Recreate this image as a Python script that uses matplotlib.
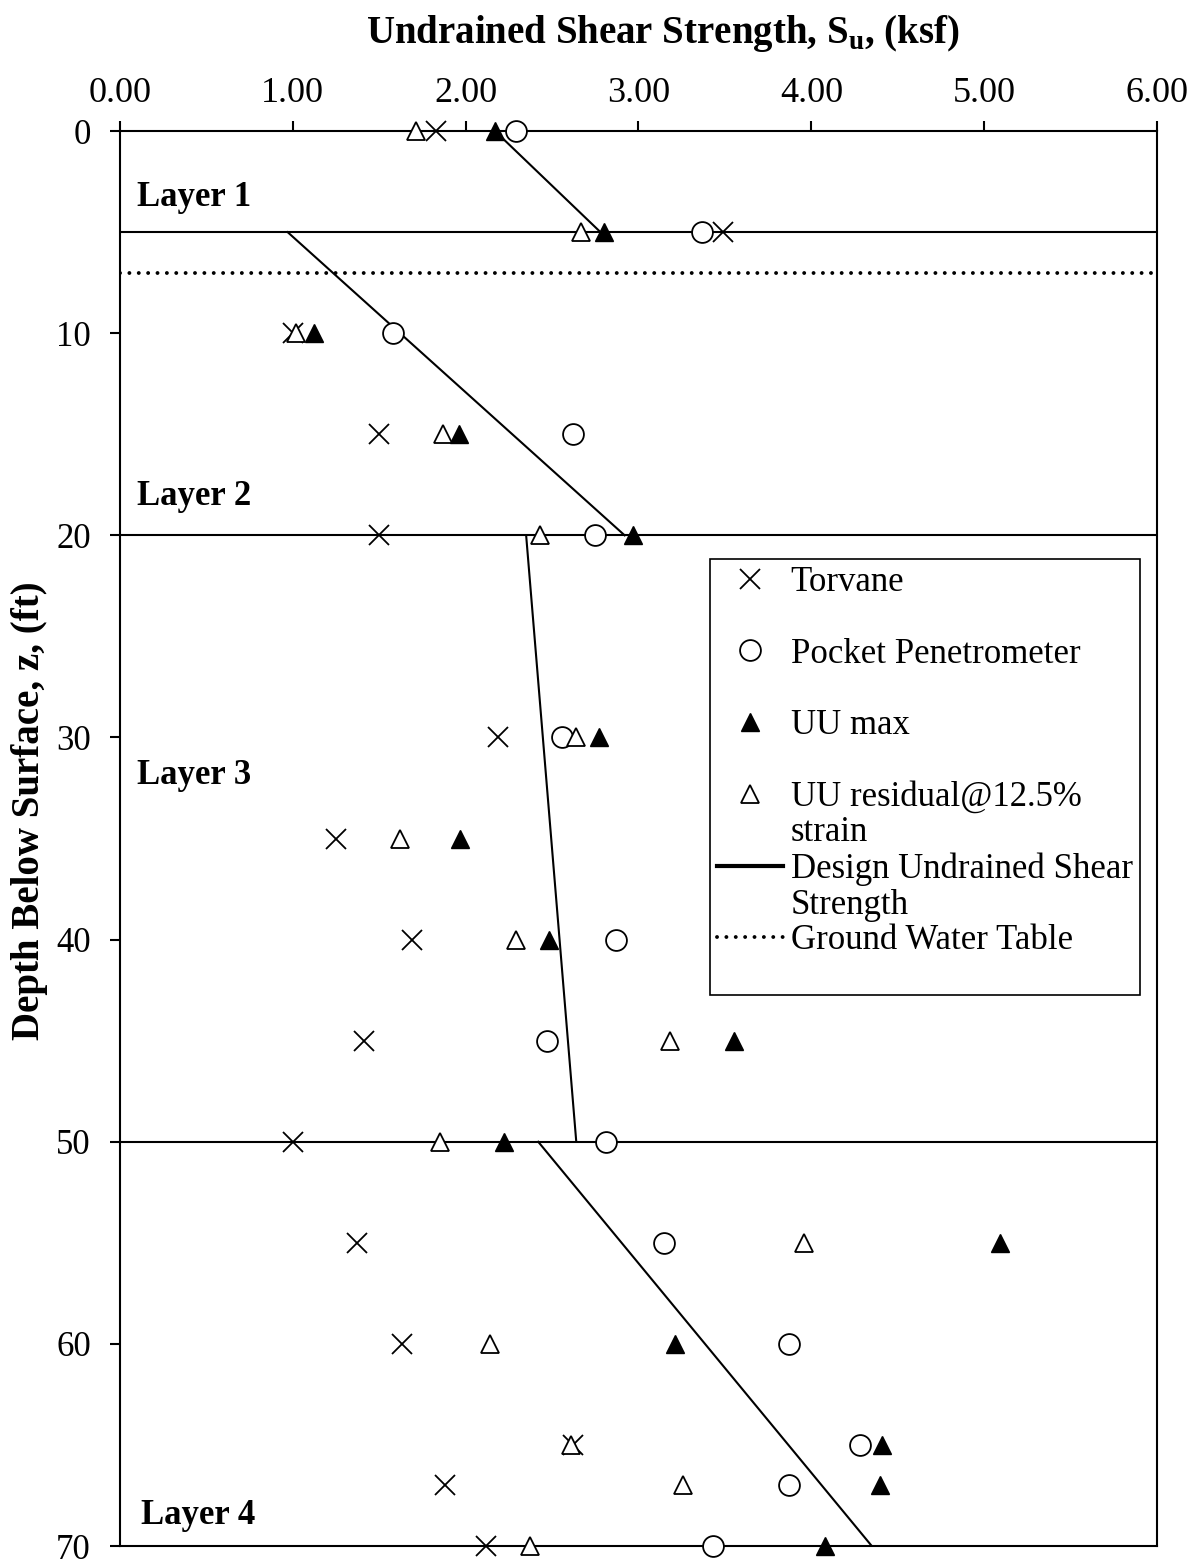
import matplotlib
matplotlib.use("Agg")
import matplotlib.pyplot as plt
from matplotlib.lines import Line2D

plt.rcParams['font.family'] = ['Liberation Serif', 'DejaVu Serif']
plt.rcParams['mathtext.fontset'] = 'custom'
plt.rcParams['mathtext.rm'] = 'Liberation Serif'
plt.rcParams['mathtext.bf'] = 'Liberation Serif:bold'

# depths (ft) of the samples
depth = [0, 5, 10, 15, 20, 30, 35, 40, 45, 50, 55, 60, 65, 67, 70]
torvane = [1.83, 3.49, 1.00, 1.50, 1.50, 2.19, 1.25, 1.69, 1.41, 1.00, 1.37, 1.63, 2.62, 1.88, 2.12]
uu_max = [2.17, 2.80, 1.12, 1.96, 2.97, 2.77, 1.97, 2.48, 3.55, 2.22, 5.09, 3.21, 4.41, 4.40, 4.08]
uu_resid = [1.71, 2.67, 1.02, 1.87, 2.43, 2.64, 1.62, 2.29, 3.18, 1.85, 3.96, 2.14, 2.61, 3.26, 2.37]
# no pocket penetrometer reading at 35 ft
pp_depth = [0, 5, 10, 15, 20, 30, 40, 45, 50, 55, 60, 65, 67, 70]
pocket_pen = [2.29, 3.37, 1.58, 2.62, 2.75, 2.56, 2.87, 2.47, 2.81, 3.15, 3.87, 4.28, 3.87, 3.43]

# design Su, one straight segment per layer
design_z = [[0, 5], [5, 20], [20, 50], [50, 70]]
design_su = [[2.17, 2.78], [0.97, 2.92], [2.35, 2.64], [2.42, 4.35]]

layer_bounds = [5, 20, 50]
gwt_depth = 7
layer_names = ['Layer 1', 'Layer 2', 'Layer 3', 'Layer 4']
layer_label_z = [3.3, 18.1, 31.9, 68.5]
layer_label_x = [0.10, 0.10, 0.10, 0.12]

fig = plt.figure(figsize=(11.95, 15.62), dpi=100)
ax = fig.add_axes([0.1004, 0.0102, 0.8678, 0.9059])

# layer boundaries + water table
for z in layer_bounds:
    ax.axhline(z, color='black', lw=1.5, zorder=1)
ax.axhline(gwt_depth, color='black', lw=2.8, ls=(0, (0.01, 2.4)),
           dash_capstyle='round', zorder=1)

for zz, ss in zip(design_z, design_su):
    ax.plot(ss, zz, color='black', lw=1.5, zorder=2)

mk = dict(ls='none', zorder=3, clip_on=False)
ax.plot(torvane, depth, marker='x', ms=15, mew=1.3, color='black', **mk)
ax.plot(pocket_pen, pp_depth, marker='o', ms=15, mew=1.3, mec='black', mfc='white', **mk)
ax.plot(uu_max, depth, marker='^', ms=13, mew=1.0, color='black', **mk)
ax.plot(uu_resid, depth, marker='^', ms=13, mew=1.3, mec='black', mfc='white', **mk)

for name, x, z in zip(layer_names, layer_label_x, layer_label_z):
    ax.text(x, z, name, fontsize=25, fontweight='bold', va='center', ha='left')

ax.set_xlim(0, 6)
ax.set_ylim(70, 0)
ax.set_xticks([0, 1, 2, 3, 4, 5, 6])
ax.set_xticklabels(['%.2f' % v for v in [0, 1, 2, 3, 4, 5, 6]])
ax.set_yticks(range(0, 71, 10))
ax.xaxis.tick_top()
ax.tick_params(axis='both', labelsize=26, length=7, width=1.5, direction='out')
ax.tick_params(axis='x', pad=8)
ax.tick_params(axis='y', pad=14, labelsize=25)
for sp in ax.spines.values():
    sp.set_linewidth(1.5)

ax.xaxis.set_label_position('top')
ax.set_xlabel(r'Undrained Shear Strength, S$_\mathbf{u}$, (ksf)', fontsize=28, fontweight='bold')
ax.xaxis.set_label_coords(0.523, 1.062)
ax.set_ylabel('Depth Below Surface, z, (ft)', fontsize=28, fontweight='bold')
ax.yaxis.set_label_coords(-0.069, 0.52)

# legend rows, blanks keep the wide spacing of the marker entries
blank = Line2D([], [], ls='none')
handles = [
    Line2D([], [], ls='none', marker='x', ms=15, mew=1.3, color='black'), blank,
    Line2D([], [], ls='none', marker='o', ms=15, mew=1.3, mec='black', mfc='white'), blank,
    Line2D([], [], ls='none', marker='^', ms=13, color='black'), blank,
    Line2D([], [], ls='none', marker='^', ms=13, mew=1.3, mec='black', mfc='white'), blank,
    Line2D([], [], color='black', lw=3), blank,
    Line2D([], [], color='black', lw=2.8, ls=(0, (0.01, 2.4)), dash_capstyle='round'), blank,
]
labels = ['Torvane', ' ', 'Pocket Penetrometer', ' ', 'UU max', ' ',
          'UU residual@12.5%', 'strain', 'Design Undrained Shear', 'Strength',
          'Ground Water Table', ' ']
leg = ax.legend(handles, labels, loc='upper left', bbox_to_anchor=(0.569, 0.6975),
                fontsize=25, labelspacing=0.08, handlelength=1.9, handletextpad=0.22,
                borderpad=0.2, borderaxespad=0, fancybox=False, edgecolor='black',
                framealpha=1)
leg.get_texts()[-1].set_fontsize(14)
leg.get_frame().set_linewidth(1.2)

fig.savefig('out.png', dpi=100)
